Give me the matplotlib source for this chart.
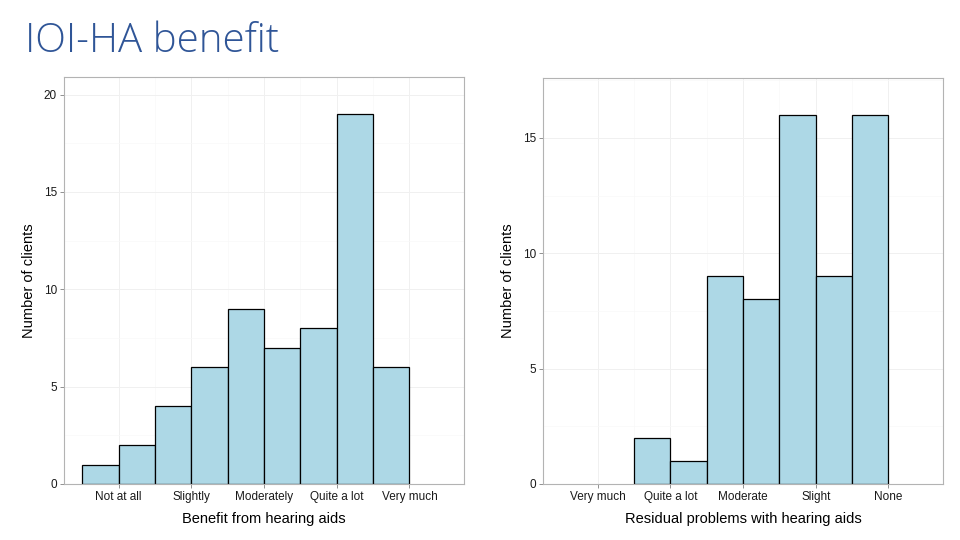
import matplotlib.pyplot as plt
import numpy as np

# Response categories (x ticks at 1..5)
benefit_labels = ['Not at all', 'Slightly', 'Moderately', 'Quite a lot', 'Very much']
residual_labels = ['Very much', 'Quite a lot', 'Moderate', 'Slight', 'None']

# Histogram counts, bin width 0.5, bins start at 0.5
benefit_counts = [1, 2, 4, 6, 9, 7, 8, 19, 6]
residual_counts = [0, 0, 2, 1, 9, 8, 16, 9, 16]

binwidth = 0.5
fill_col = '#ADD8E6'
grid_col = '#F0F0F0'
font = ['Liberation Sans', 'DejaVu Sans']

plt.rcParams['font.family'] = font

fig = plt.figure(figsize=(9.6, 5.4), dpi=100, facecolor='w')

def draw_hist(ax, counts, labels, xlabel, ymax, yticks):
  counts = np.array(counts)
  starts = 0.5 + binwidth*np.arange(len(counts))
  keep = counts > 0
  ax.set_axisbelow(True)
  # ggplot style grid: major + minor
  for v in range(1, 6):
    ax.axvline(v, color=grid_col, linewidth=0.7, zorder=0)
  for v in np.arange(1.5, 5.0, 1.0):
    ax.axvline(v, color='#F8F8F8', linewidth=0.5, zorder=0)
  for v in yticks:
    ax.axhline(v, color=grid_col, linewidth=0.7, zorder=0)
  for v in np.arange(2.5, ymax, 5):
    ax.axhline(v, color='#F8F8F8', linewidth=0.5, zorder=0)
  ax.bar(starts[keep], counts[keep], width=binwidth, align='edge', color=fill_col,
         edgecolor='black', linewidth=0.9, zorder=2)
  ax.set_xlim(0.25, 5.75)
  ax.set_ylim(0, ymax)
  ax.set_xticks(range(1, 6))
  ax.set_xticklabels(labels)
  ax.set_yticks(yticks)
  ax.tick_params(axis='both', labelsize=8.5, colors='#7F7F7F', labelcolor='#1A1A1A',
                 length=3, width=0.6, pad=2)
  for s in ax.spines.values():
    s.set_color('#B3B3B3')
    s.set_linewidth(0.8)
  ax.set_xlabel(xlabel, fontsize=10.5, labelpad=6.5)
  ax.set_ylabel('Number of clients', fontsize=10.5, labelpad=5.5)

ax1 = fig.add_axes([64/960, 1-484/540, 400/960, 407/540])
draw_hist(ax1, benefit_counts, benefit_labels, 'Benefit from hearing aids', 20.9, [0, 5, 10, 15, 20])

ax2 = fig.add_axes([543/960, 1-484/540, 400/960, 406/540])
draw_hist(ax2, residual_counts, residual_labels, 'Residual problems with hearing aids', 17.6, [0, 5, 10, 15])

fig.text(25/960, 1-42/540, 'IOI-HA benefit', fontsize=29, color='#2F5597',
         family=['Open Sans', 'DejaVu Sans'], fontweight='light', va='center', ha='left')

plt.savefig('out.png', dpi=100, facecolor='w')
